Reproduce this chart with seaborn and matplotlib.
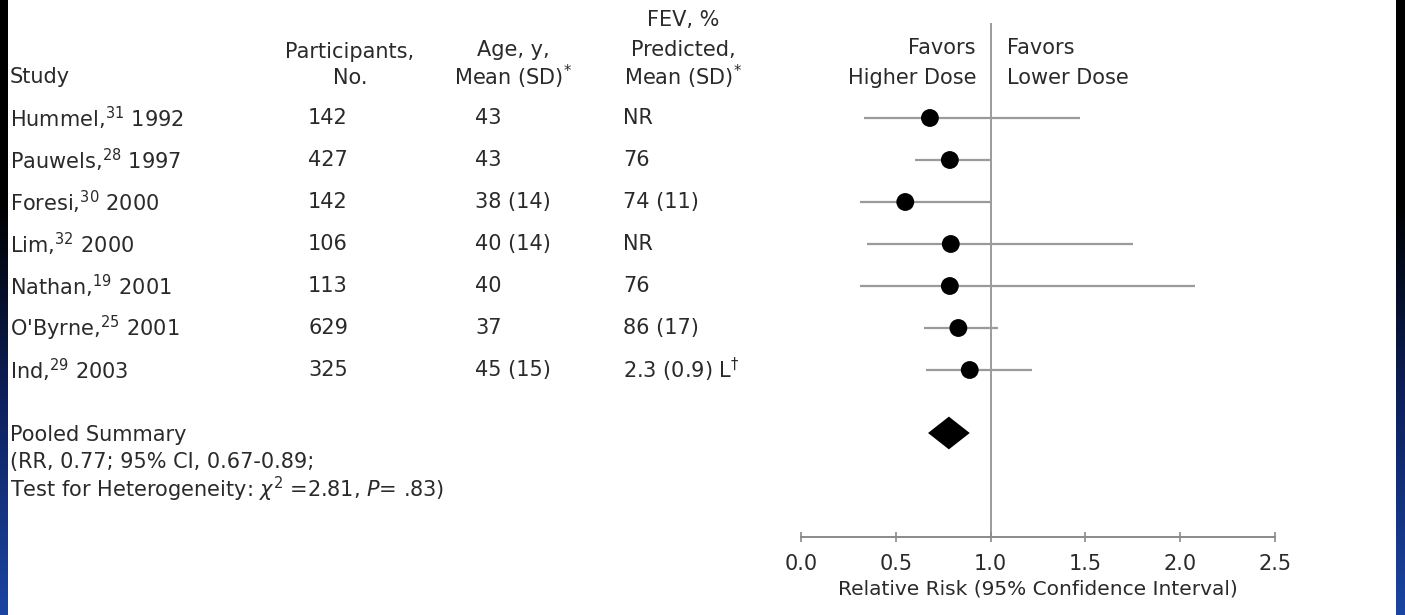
import numpy as np
import pandas as pd
import matplotlib
matplotlib.use("Agg")
import matplotlib.pyplot as plt
import matplotlib.transforms as mtransforms
from matplotlib.colors import LinearSegmentedColormap
import seaborn as sns

# ==========================================
# DATA
# ==========================================
studies = ["Hummel,$^{31}$ 1992", "Pauwels,$^{28}$ 1997", "Foresi,$^{30}$ 2000",
           "Lim,$^{32}$ 2000", "Nathan,$^{19}$ 2001", "O'Byrne,$^{25}$ 2001",
           "Ind,$^{29}$ 2003"]
participants = ["142", "427", "142", "106", "113", "629", "325"]
ages = ["43", "43", "38 (14)", "40 (14)", "40", "37", "45 (15)"]
fev = ["NR", "76", "74 (11)", "NR", "76", "86 (17)", "2.3 (0.9) L$^{\\dagger}$"]
rr = [0.68, 0.785, 0.55, 0.79, 0.785, 0.83, 0.89]
ci_low = [0.33, 0.60, 0.31, 0.35, 0.31, 0.65, 0.66]
ci_high = [1.47, 1.00, 1.00, 1.75, 2.08, 1.04, 1.22]

pooled_rr = 0.78
pooled_low = 0.67
pooled_high = 0.89
pooled_text = ["Pooled Summary",
               "(RR, 0.77; 95% CI, 0.67-0.89;",
               "Test for Heterogeneity: $\\chi^2$ =2.81, $P$= .83)"]

xticks = [0.0, 0.5, 1.0, 1.5, 2.0, 2.5]

df = pd.DataFrame({"study": studies, "rr": rr, "lo": ci_low, "hi": ci_high})
df["row"] = np.arange(len(df))
pooled_row = len(df) + 0.5

# ==========================================
# FIGURE
# ==========================================
sns.set_theme(style="white")
plt.rcParams["font.family"] = ["DejaVu Sans"]
plt.rcParams["mathtext.fontset"] = "dejavusans"

W, H = 1405, 615
fig = plt.figure(figsize=(W / 100, H / 100), dpi=100)
fig.patch.set_facecolor("white")

# slide border strips (dark to blue)
cmap = LinearSegmentedColormap.from_list("slide", ["#000000", "#000000", "#0d2260", "#1b45a2"])
grad = np.linspace(0, 1, 256).reshape(-1, 1)
for x0, x1 in [(0, 8), (1396, 1405)]:
    bax = fig.add_axes([x0 / W, 0, (x1 - x0) / W, 1])
    bax.imshow(grad, aspect="auto", cmap=cmap, origin="upper")
    bax.axis("off")

# forest plot axes: x 0..2.5 maps px 801..1275, bottom spine at px 537
row0_px, row_step = 118, 42
top_px, bot_px = 23, 537
ax = fig.add_axes([801 / W, (H - bot_px) / H, 474 / W, (bot_px - top_px) / H])
ax.set_facecolor("none")
ax.set_xlim(0, 2.5)
ax.set_ylim((bot_px - row0_px) / row_step, (top_px - row0_px) / row_step)

ax.axvline(1.0, color="#8a8a8a", lw=1.2, zorder=1)
ax.hlines(df["row"], df["lo"], df["hi"], color="#9a9a9a", lw=1.6, zorder=2)
sns.scatterplot(data=df, x="rr", y="row", ax=ax, color="black", s=165,
                edgecolor="none", zorder=3, legend=False)

# pooled diamond
dh = 0.39
ax.fill([pooled_low, pooled_rr, pooled_high, pooled_rr],
        [pooled_row, pooled_row - dh, pooled_row, pooled_row + dh],
        color="black", lw=0, zorder=3)

for s in ["top", "left", "right"]:
    ax.spines[s].set_visible(False)
ax.spines["bottom"].set_color("#8a8a8a")
ax.spines["bottom"].set_linewidth(1.4)
ax.set_yticks([])
ax.set_xticks(xticks)
ax.set_xticklabels([f"{t:.1f}" for t in xticks])
ax.tick_params(axis="x", bottom=True, direction="inout", length=7, width=1.2,
               color="#8a8a8a", pad=9, labelsize=15, labelcolor="#2a2a2a")
ax.set_xlabel("Relative Risk (95% Confidence Interval)", fontsize=14.5,
              color="#2a2a2a", labelpad=4)
ax.set_ylabel("")

# ==========================================
# TABLE TEXT
# ==========================================
tr = mtransforms.blended_transform_factory(fig.transFigure, ax.transData)
txt = dict(transform=tr, fontsize=15, color="#2a2a2a", va="center", clip_on=False)

def yrow(px):
    return (px - row0_px) / row_step

# headers
ax.text(10 / W, yrow(77), "Study", ha="left", **txt)
ax.text(350 / W, yrow(52), "Participants,", ha="center", **txt)
ax.text(350 / W, yrow(78), "No.", ha="center", **txt)
ax.text(513 / W, yrow(50), "Age, y,", ha="center", **txt)
ax.text(513 / W, yrow(77), "Mean (SD)$^{*}$", ha="center", **txt)
ax.text(683 / W, yrow(20), "FEV, %", ha="center", **txt)
ax.text(683 / W, yrow(50), "Predicted,", ha="center", **txt)
ax.text(683 / W, yrow(77), "Mean (SD)$^{*}$", ha="center", **txt)

# favors labels
ax.text(976 / W, yrow(48), "Favors", ha="right", **txt)
ax.text(976 / W, yrow(78), "Higher Dose", ha="right", **txt)
ax.text(1007 / W, yrow(48), "Favors", ha="left", **txt)
ax.text(1007 / W, yrow(78), "Lower Dose", ha="left", **txt)

# rows
for i, r in df.iterrows():
    ax.text(10 / W, r["row"], studies[i], ha="left", **txt)
    ax.text(308 / W, r["row"], participants[i], ha="left", **txt)
    ax.text(475 / W, r["row"], ages[i], ha="left", **txt)
    ax.text(623 / W, r["row"], fev[i], ha="left", **txt)

for k, line in enumerate(pooled_text):
    ax.text(10 / W, yrow(435 + 27 * k), line, ha="left", **txt)

fig.savefig("out.png", dpi=100, facecolor="white")
